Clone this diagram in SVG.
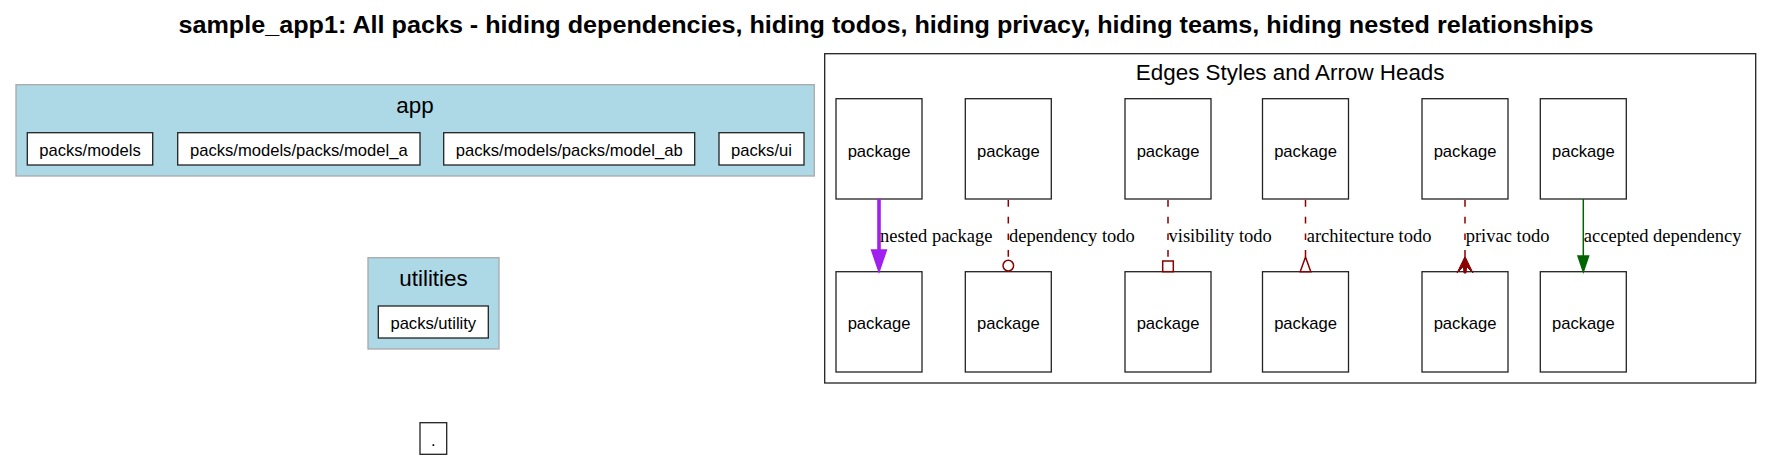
<svg xmlns="http://www.w3.org/2000/svg" width="1772" height="461" viewBox="0 0 1772 461">
<style>
.node{fill:#fff;stroke:#222;stroke-width:1.3}
.t{font-family:"Liberation Sans",Arial,sans-serif;font-size:16.6px;fill:#000;text-anchor:middle}
.cl{font-family:"Liberation Sans",Arial,sans-serif;font-size:22.4px;fill:#000;text-anchor:middle}
.pk{fill:#add8e6;stroke:#a9a9a9;stroke-width:1.3}
.el{font-family:"Liberation Serif","Times New Roman",serif;font-size:18.5px;fill:#000}
.todo{stroke:#8b0000;stroke-width:1.5;fill:none;stroke-dasharray:6.7,10}
.head{stroke:#8b0000;stroke-width:1.5;fill:#fff}
</style>
<rect width="1772" height="461" fill="#fff"/>
<text x="886" y="32.5" font-family="'Liberation Sans',Arial,sans-serif" font-weight="bold" font-size="24.5" text-anchor="middle" textLength="1415" lengthAdjust="spacingAndGlyphs">sample_app1: All packs - hiding dependencies, hiding todos, hiding privacy, hiding teams, hiding nested relationships</text>

<g id="cluster_app">
<rect class="pk" x="16" y="84.7" width="798.3" height="91.3"/>
<text class="cl" x="415" y="113">app</text>
</g>
<g id="node_packs_models">
<rect class="node" x="27.3" y="132.7" width="125.4" height="32.3"/>
<text class="t" x="90" y="155.8">packs/models</text>
</g>
<g id="node_packs_model_a">
<rect class="node" x="177.7" y="132.7" width="242.3" height="32.3"/>
<text class="t" x="298.8" y="155.8">packs/models/packs/model_a</text>
</g>
<g id="node_packs_model_ab">
<rect class="node" x="443.7" y="132.7" width="251" height="32.3"/>
<text class="t" x="569.2" y="155.8">packs/models/packs/model_ab</text>
</g>
<g id="node_packs_ui">
<rect class="node" x="719" y="132.7" width="85" height="32.3"/>
<text class="t" x="761.5" y="155.8">packs/ui</text>
</g>

<g id="cluster_utilities">
<rect class="pk" x="368" y="257.7" width="131" height="91.3"/>
<text class="cl" x="433.5" y="286">utilities</text>
</g>
<g id="node_packs_utility">
<rect class="node" x="378.3" y="306" width="110" height="32"/>
<text class="t" x="433.3" y="329.3">packs/utility</text>
</g>

<g id="node_root">
<rect class="node" x="420" y="422.7" width="26.7" height="31.6"/>
<text class="t" x="433.3" y="445.5">.</text>
</g>

<g id="cluster_legend">
<rect x="824.7" y="53.7" width="931" height="329.3" fill="none" stroke="#222" stroke-width="1.3"/>
<text class="cl" x="1290.2" y="80">Edges Styles and Arrow Heads</text>
</g>

<g id="legend_nodes">
<g id="lg_a1"><rect class="node" x="836" y="98.7" width="86" height="100.3"/><text class="t" x="879" y="156.5">package</text></g>
<g id="lg_a2"><rect class="node" x="836" y="271.7" width="86" height="100.3"/><text class="t" x="879" y="329.3">package</text></g>
<g id="lg_b1"><rect class="node" x="965.3" y="98.7" width="86" height="100.3"/><text class="t" x="1008.3" y="156.5">package</text></g>
<g id="lg_b2"><rect class="node" x="965.3" y="271.7" width="86" height="100.3"/><text class="t" x="1008.3" y="329.3">package</text></g>
<g id="lg_c1"><rect class="node" x="1125" y="98.7" width="86" height="100.3"/><text class="t" x="1168" y="156.5">package</text></g>
<g id="lg_c2"><rect class="node" x="1125" y="271.7" width="86" height="100.3"/><text class="t" x="1168" y="329.3">package</text></g>
<g id="lg_d1"><rect class="node" x="1262.5" y="98.7" width="86" height="100.3"/><text class="t" x="1305.5" y="156.5">package</text></g>
<g id="lg_d2"><rect class="node" x="1262.5" y="271.7" width="86" height="100.3"/><text class="t" x="1305.5" y="329.3">package</text></g>
<g id="lg_e1"><rect class="node" x="1422" y="98.7" width="86" height="100.3"/><text class="t" x="1465" y="156.5">package</text></g>
<g id="lg_e2"><rect class="node" x="1422" y="271.7" width="86" height="100.3"/><text class="t" x="1465" y="329.3">package</text></g>
<g id="lg_f1"><rect class="node" x="1540.3" y="98.7" width="86" height="100.3"/><text class="t" x="1583.3" y="156.5">package</text></g>
<g id="lg_f2"><rect class="node" x="1540.3" y="271.7" width="86" height="100.3"/><text class="t" x="1583.3" y="329.3">package</text></g>
</g>

<g id="connectors">
<g id="e_nested">
<line x1="879" y1="199" x2="879" y2="251" stroke="#a020f0" stroke-width="3.6"/>
<polygon points="871.6,250 886.4,250 879,271.7" fill="#a020f0" stroke="#a020f0" stroke-width="1.5"/>
<text class="el" x="880" y="241.7">nested package</text>
</g>
<g id="e_dependency_todo">
<line class="todo" x1="1008.3" y1="200" x2="1008.3" y2="260"/>
<circle class="head" cx="1008.3" cy="265.6" r="5.3"/>
<text class="el" x="1009" y="241.7">dependency todo</text>
</g>
<g id="e_visibility_todo">
<line class="todo" x1="1168" y1="200" x2="1168" y2="261"/>
<rect class="head" x="1162.7" y="261" width="10.6" height="10.7"/>
<text class="el" x="1168.5" y="241.7">visibility todo</text>
</g>
<g id="e_architecture_todo">
<line class="todo" x1="1305.5" y1="200" x2="1305.5" y2="257"/>
<polygon class="head" points="1305.5,257 1300.2,271.7 1310.8,271.7"/>
<text class="el" x="1306.7" y="241.7">architecture todo</text>
</g>
<g id="e_privac_todo">
<line class="todo" x1="1465" y1="200" x2="1465" y2="257"/>
<path d="M1465,256.5 L1457,273 L1463.4,266.5 L1464,273 L1466,273 L1466.6,266.5 L1473,273 Z" fill="#8b0000" stroke="#8b0000" stroke-width="1"/>
<text class="el" x="1465.7" y="241.7">privac todo</text>
</g>
<g id="e_accepted">
<line x1="1583.3" y1="199" x2="1583.3" y2="257" stroke="#006400" stroke-width="1.5"/>
<polygon points="1578,256 1588.6,256 1583.3,271.7" fill="#006400" stroke="#006400" stroke-width="1.5"/>
<text class="el" x="1583.8" y="241.7">accepted dependency</text>
</g>
</g>
</svg>
